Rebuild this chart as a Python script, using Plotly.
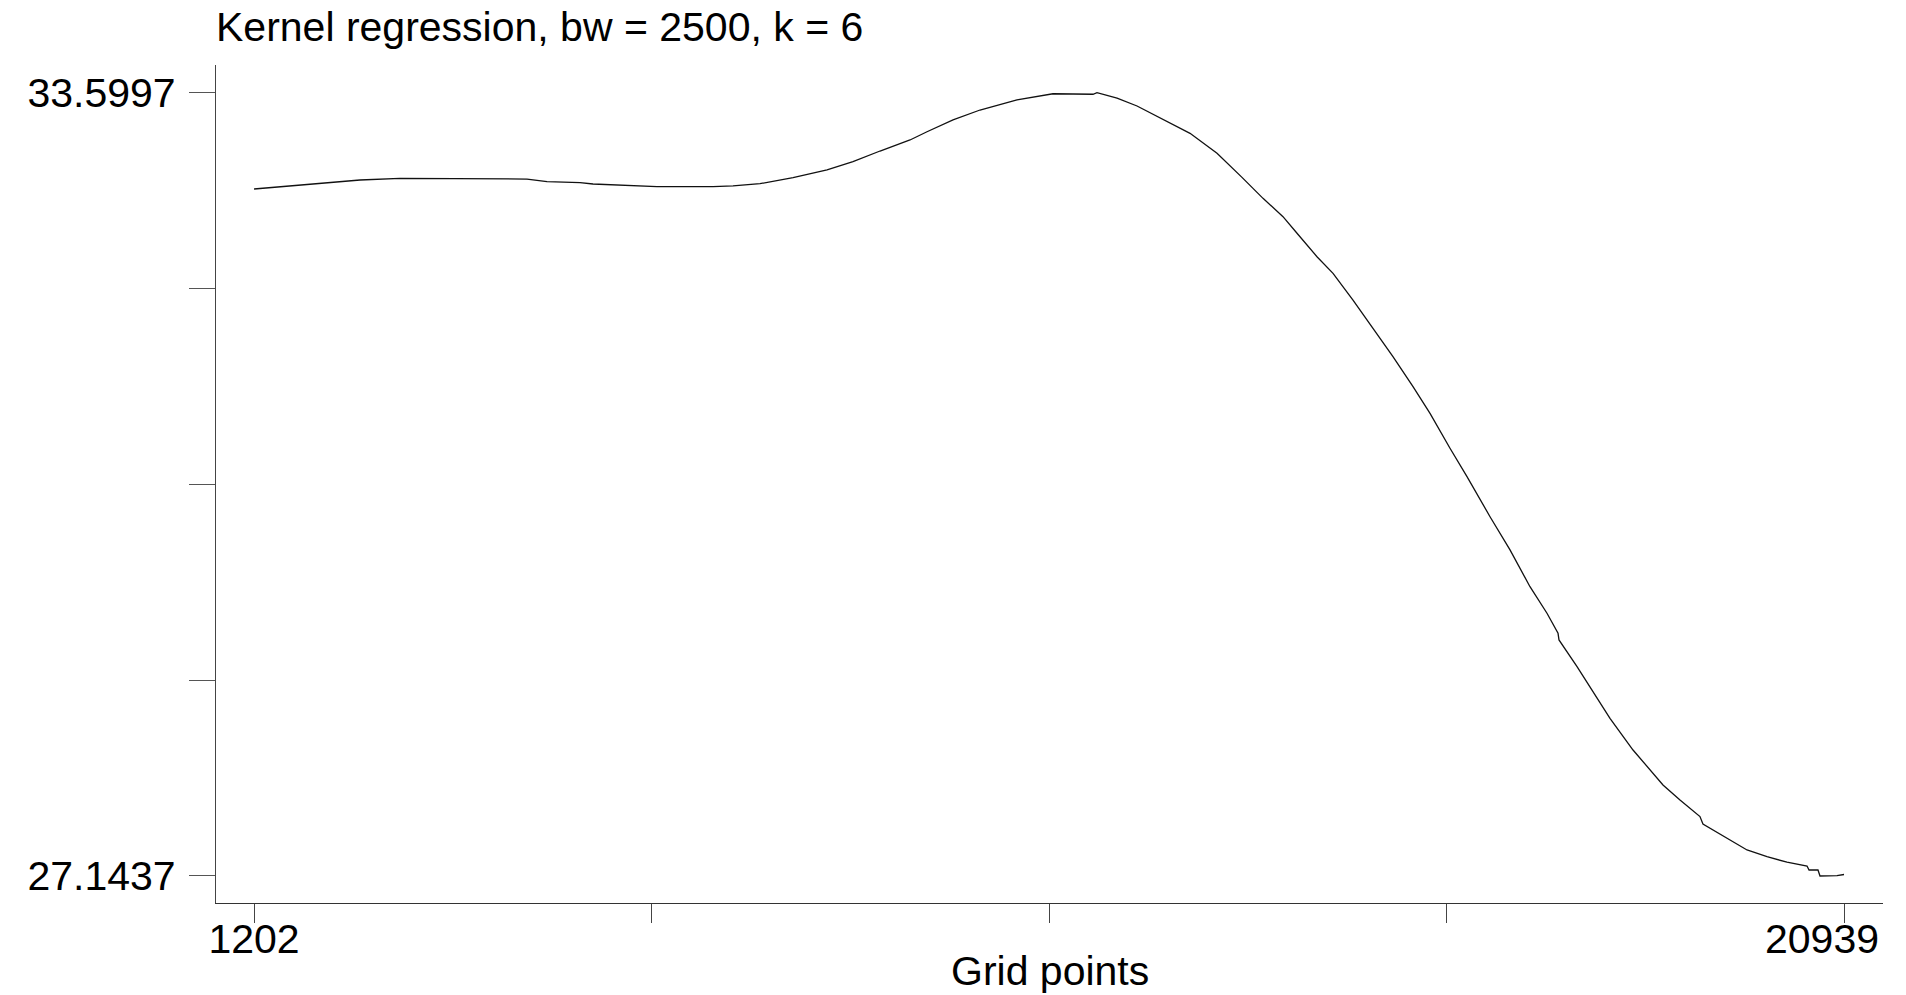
import plotly.graph_objects as go

# Grid points (x) and kernel regression estimate (y)
grid_points = [1202, 1934, 2518, 3014, 4094, 4591, 4839, 5249, 5410, 5956,
               6204, 6900, 7148, 7483, 7893, 8315, 8637, 8973, 9345, 9556,
               9879, 10214, 10673, 11120, 11617, 11666, 11915, 12163, 12535, 12821,
               13156, 13354, 13466, 13727, 13975, 14149, 14397, 14596, 14844, 15092,
               15340, 15589, 15800, 16048, 16259, 16545, 16793, 17041, 17252, 17389,
               17401, 17625, 17873, 18034, 18320, 18692, 18903, 19151, 19188, 19313,
               19561, 19735, 19983, 20231, 20480, 20505, 20616, 20641, 20852, 20939]
estimate = [32.806, 32.847, 32.880, 32.894, 32.894, 32.888, 32.866, 32.858, 32.847, 32.831,
            32.825, 32.825, 32.831, 32.850, 32.899, 32.963, 33.031, 33.119, 33.210, 33.278,
            33.375, 33.457, 33.540, 33.591, 33.587, 33.5997, 33.554, 33.490, 33.366, 33.265,
            33.100, 32.977, 32.902, 32.729, 32.578, 32.441, 32.248, 32.111, 31.891, 31.658,
            31.424, 31.177, 30.957, 30.669, 30.435, 30.105, 29.831, 29.528, 29.309, 29.144,
            29.089, 28.869, 28.608, 28.443, 28.182, 27.894, 27.770, 27.633, 27.572, 27.523,
            27.426, 27.358, 27.303, 27.257, 27.226, 27.193, 27.193, 27.1437, 27.147, 27.156]

x_min, x_max = 1202, 20939
y_min, y_max = 27.1437, 33.5997
x_tickvals = [x_min + i * (x_max - x_min) / 4 for i in range(5)]
x_ticktext = ["1202", "", "", "", ""]
x_end_label = "20939"
y_tickvals = [y_min + i * (y_max - y_min) / 4 for i in range(5)]
y_ticktext = ["27.1437", "", "", "", "33.5997"]

title_text = "Kernel regression, bw = 2500, k = 6"
x_title = "Grid points"

FONT = "Liberation Sans, Arial, Helvetica, sans-serif"
FS = 41
X_RANGE = [730, 21423]

fig = go.Figure()
fig.add_trace(go.Scatter(x=grid_points, y=estimate, mode="lines",
                         line=dict(color="#111111", width=1.3), showlegend=False,
                         hoverinfo="x+y"))
# empty trace so the overlaying label axis is drawn
fig.add_trace(go.Scatter(x=[], y=[], xaxis="x2", yaxis="y", showlegend=False,
                         hoverinfo="skip"))

fig.update_layout(
    width=1906, height=995,
    margin=dict(l=216, r=23, t=65, b=92, autoexpand=False),
    paper_bgcolor="white", plot_bgcolor="white",
    font=dict(family=FONT, size=FS, color="black"),
    title=dict(text=title_text, x=216 / 1906, xref="container", xanchor="left",
               y=1 - 12 / 995, yref="container", yanchor="top",
               font=dict(family=FONT, size=FS, color="black")),
    annotations=[dict(text=x_title, x=0.5, xref="paper", xanchor="center",
                      y=-(971 - 903) / 838, yref="paper", yanchor="middle",
                      showarrow=False, font=dict(family=FONT, size=FS, color="black"))],
    xaxis2=dict(overlaying="x", anchor="y", side="bottom", range=X_RANGE,
                showgrid=False, zeroline=False, showline=False, automargin=False,
                tickmode="array", tickvals=[x_max], ticktext=[x_end_label],
                ticks="outside", ticklen=19, tickcolor="rgba(0,0,0,0)",
                tickfont=dict(family=FONT, size=FS, color="black"),
                ticklabelstandoff=-19, ticklabelshift=-22, ticklabeloverflow="allow"),
)
fig.update_xaxes(
    selector=dict(anchor="y", overlaying=None),
)
fig.layout.xaxis.update(
    range=X_RANGE, showgrid=False, zeroline=False, automargin=False,
    showline=True, linecolor="#333333", linewidth=1.3,
    tickmode="array", tickvals=x_tickvals, ticktext=x_ticktext,
    ticks="outside", ticklen=19, tickwidth=1.2, tickcolor="#444444",
    tickfont=dict(family=FONT, size=FS, color="black"),
    ticklabeloverflow="allow", ticklabelstandoff=-19,
)
fig.update_yaxes(
    range=[26.921, 33.828], showgrid=False, zeroline=False, automargin=False,
    showline=True, linecolor="#444444", linewidth=1.3,
    tickmode="array", tickvals=y_tickvals, ticktext=y_ticktext,
    ticks="outside", ticklen=26, tickwidth=1.2, tickcolor="#555555",
    tickfont=dict(family=FONT, size=FS, color="black"),
    ticklabelstandoff=5, ticklabeloverflow="allow",
)

fig.write_html("out.html")
